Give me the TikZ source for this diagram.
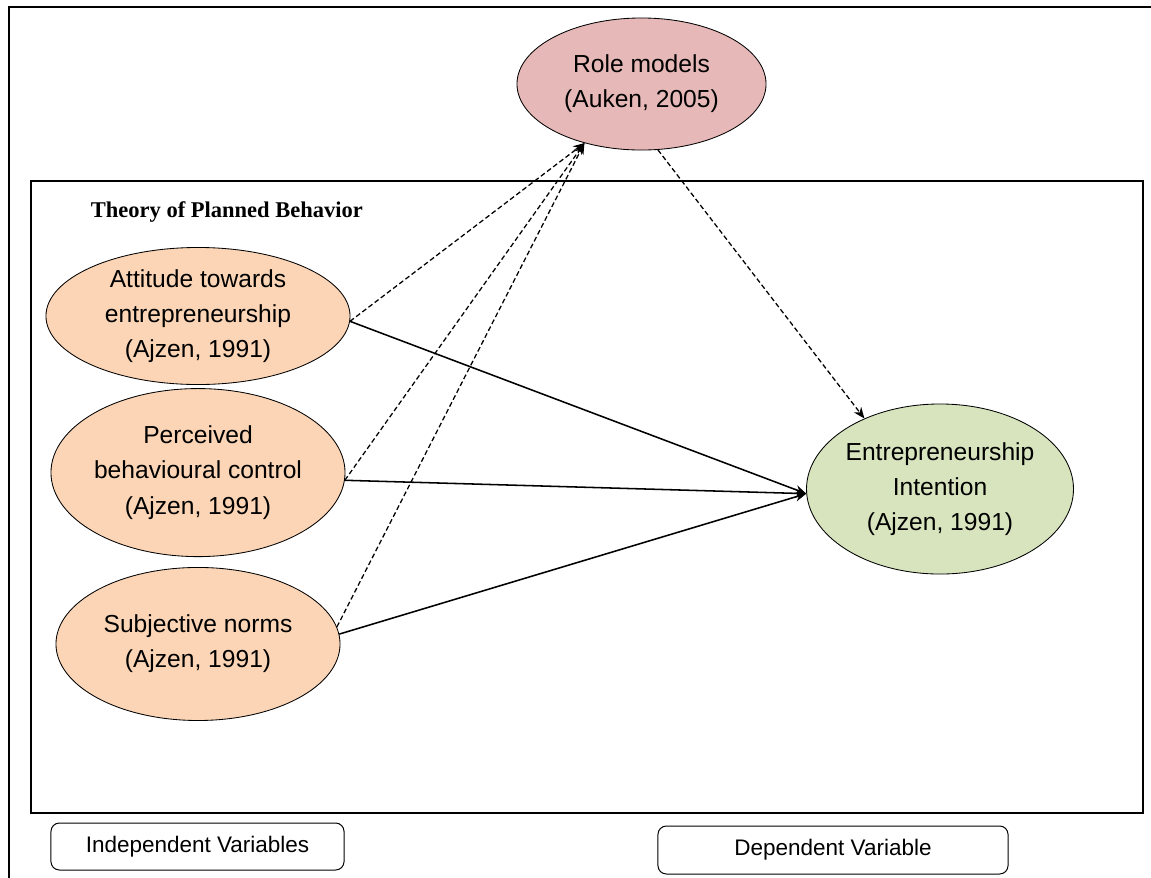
\documentclass[tikz,border=0pt]{standalone}
\usepackage{fontspec}
\setmainfont{Liberation Sans}
\newfontfamily\timesfont{Liberation Serif}
\usetikzlibrary{arrows.meta,positioning,shapes.geometric}
\definecolor{peach}{HTML}{FBD5B5}
\definecolor{rosy}{HTML}{E6B9B8}
\definecolor{sage}{HTML}{D7E4BD}

\begin{document}
\begin{tikzpicture}[x=0.025cm, y=-0.025cm, >={Stealth[length=8pt,width=6.5pt]}, every node/.style={font=\fontsize{17.5}{25}\selectfont}]
% styles
\tikzstyle{construct}=[ellipse,draw,line width=0.6pt,inner sep=0pt,align=center]
\tikzstyle{frame}=[draw,line width=1.3pt]
\tikzstyle{legend}=[rectangle,draw,rounded corners=6pt,line width=0.7pt,font=\fontsize{16}{19}\selectfont]
\tikzstyle{direct}=[->,line width=1.1pt]
\tikzstyle{moderate}=[->,dashed,dash pattern=on 3.5pt off 2pt,line width=0.9pt]

\useasboundingbox (0,0) rectangle (1151,877);
\clip (0,0) rectangle (1151,877);

% frames
\draw[frame] (9,7) rectangle (1180,900);
\draw[frame] (31,181) rectangle (1143,813);
\node[anchor=west,font=\timesfont\bfseries\fontsize{16}{19}\selectfont] (tpb) at (86,212) {Theory of Planned Behavior};

% independent variables
\node[construct,fill=peach,minimum width=7.6cm,minimum height=3.425cm] (att) at (198,316) {Attitude towards\\entrepreneurship\\(Ajzen, 1991)};
\node[construct,fill=peach,minimum width=7.1cm,minimum height=4.2cm,below=0.08cm of att] (pbc) {Perceived\\behavioural control\\(Ajzen, 1991)};
\node[construct,fill=peach,minimum width=7.1cm,minimum height=3.825cm,below=0.25cm of pbc] (sn) {Subjective norms\\(Ajzen, 1991)};

% moderator
\node[construct,fill=rosy,minimum width=6.225cm,minimum height=3.3cm] (rm) at (641.5,84) {Role models\\(Auken, 2005)};

% dependent variable
\node[construct,fill=sage,minimum width=6.3cm,minimum height=4.25cm] (ei) at (940,489) {Entrepreneurship\\Intention\\(Ajzen, 1991)};

% legend
\node[legend,minimum width=7.325cm,minimum height=1.175cm] (iv) at (197.5,846.5) {Independent Variables};
\node[legend,minimum width=8.75cm,minimum height=1.2cm] (dv) at (833,850) {Dependent Variable};

% arrows to intention
\foreach \src/\ang in {att/-2,pbc/-3,sn/4}
  \draw[direct] (\src.\ang) -- (ei.182);

% arrows to role models
\foreach \src/\ang in {att/-2,pbc/-3,sn/7}
  \draw[moderate] (\src.\ang) -- (rm.226);

\draw[moderate] (rm.284) -- (ei.137);

\end{tikzpicture}
\end{document}
